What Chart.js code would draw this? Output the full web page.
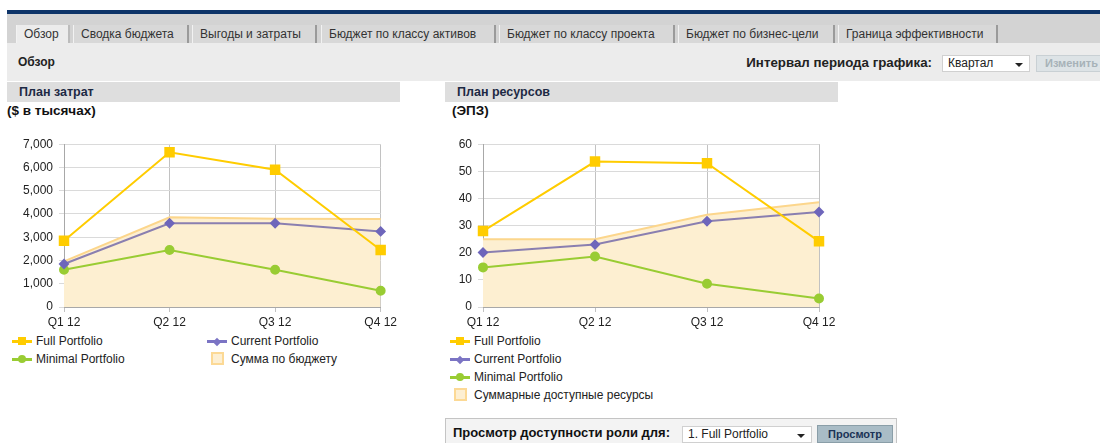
<!DOCTYPE html>
<html lang="ru">
<head>
<meta charset="UTF-8">
<title>Обзор</title>
<script src="https://cdn.jsdelivr.net/npm/chart.js"></script>
<style>
  body { margin: 0; width: 1100px; height: 443px; overflow: hidden; background: #fff;
         font-family: "Liberation Sans", Arial, sans-serif; font-size: 12px; color: #222; position: relative; }
  .abs { position: absolute; }
  .topbar { left: 7px; top: 10px; width: 1093px; height: 4px; background: #0d3468; }
  .tabband { left: 7px; top: 14px; width: 1093px; height: 29px; background: #d3d3d3; }
  .tab { top: 25px; height: 18px; line-height: 18px; background: #d8d8d8; color: #333;
         border-left: 1px solid #f2f2f2; border-right: 2px solid #9a9a9a; box-sizing: border-box; padding-left: 7px; white-space: nowrap; }
  .tab.active { background: #ececec; border-right: 2px solid #bcbcbc; }
  .band { left: 7px; top: 43px; width: 1093px; height: 38px; background: #ececec; }
  .hdr { top: 82px; height: 20px; line-height: 20px; background: #dedede; color: #1d2a44; font-weight: bold; font-size: 12.5px; padding-left: 12px; box-sizing: border-box; }
  .unit { top: 103px; font-weight: bold; font-size: 13.5px; color: #111; }
  .sel { background: #fff; border: 1px solid #d0d0d0; box-sizing: border-box; padding-left: 5px; line-height: 15px; }
  .sel .arr { position: absolute; right: 6px; top: 7px; width: 0; height: 0;
              border-left: 4px solid transparent; border-right: 4px solid transparent; border-top: 4px solid #222; }
  .leg { height: 14px; line-height: 14px; white-space: nowrap; }
  .mk { position: absolute; left: 0; top: 6px; width: 20px; height: 3px; }
  .mk i { position: absolute; left: 6px; top: -3px; width: 8px; height: 8px; display: block; }
  .sq { position: absolute; left: 4px; top: 0; width: 13px; height: 13px; box-sizing: border-box; background: #fdefd2; border: 2px solid #fcd995; }
  .leg span.t { position: absolute; left: 24px; top: 0; }
</style>
</head>
<body>
<div class="abs topbar"></div>
<div class="abs tabband"></div>
<div class="abs tab active" style="left:16px;width:54px;">Обзор</div>
<div class="abs tab" style="left:73px;width:116px;">Сводка бюджета</div>
<div class="abs tab" style="left:192px;width:125px;">Выгоды и затраты</div>
<div class="abs tab" style="left:321px;width:175px;">Бюджет по классу активов</div>
<div class="abs tab" style="left:499px;width:176px;">Бюджет по классу проекта</div>
<div class="abs tab" style="left:678px;width:157px;">Бюджет по бизнес-цели</div>
<div class="abs tab" style="left:838px;width:160px;">Граница эффективности</div>
<div class="abs band"></div>
<div class="abs" style="left:18px;top:55px;font-weight:bold;">Обзор</div>
<div class="abs" style="left:600px;width:332px;top:55px;text-align:right;font-weight:bold;font-size:13.3px;">Интервал периода графика:</div>
<div class="abs sel" style="left:942px;top:55px;width:88px;height:17px;">Квартал<div class="arr"></div></div>
<div class="abs" style="left:1036px;top:55px;width:80px;height:17px;background:#dde3e6;border:1px solid #c9d0d4;box-sizing:border-box;color:#a7b2b8;font-weight:bold;font-size:11px;line-height:15px;padding-left:8px;">Изменить</div>

<div class="abs hdr" style="left:7px;width:393px;">План затрат</div>
<div class="abs hdr" style="left:445px;width:393px;">План ресурсов</div>
<div class="abs unit" style="left:7px;">($ в тысячах)</div>
<div class="abs unit" style="left:452px;">(ЭПЗ)</div>

<canvas id="costChart" class="abs" style="left:10px;top:131px;" width="390" height="200"></canvas>
<canvas id="resChart" class="abs" style="left:445px;top:131px;" width="400" height="200"></canvas>

<div id="costLegend"></div>
<div id="resLegend"></div>

<div class="abs" style="left:445px;top:418px;width:452px;height:30px;background:#f3f3f3;border:1px solid #c4c4c4;box-sizing:border-box;"></div>
<div class="abs" style="left:453px;top:425px;font-weight:bold;font-size:13px;color:#111;">Просмотр доступности роли для:</div>
<div class="abs sel" style="left:682px;top:426px;width:130px;height:17px;">1. Full Portfolio<div class="arr"></div></div>
<div class="abs" style="left:817px;top:425px;width:76px;height:18px;background:#a9bcc6;border:1px solid #8a9ea8;box-sizing:border-box;color:#1b3356;font-weight:bold;font-size:11px;line-height:16px;text-align:center;">Просмотр</div>

<script>
const quarters = ['Q1 12', 'Q2 12', 'Q3 12', 'Q4 12'];

// План затрат, $ в тысячах
const costFull = [2850, 6650, 5900, 2450];
const costCurrent = [1850, 3600, 3600, 3250];
const costMinimal = [1600, 2450, 1600, 700];
const costBudget = [1960, 3860, 3790, 3780];

// План ресурсов, ЭПЗ
const resFull = [28, 53.6, 53, 24.2];
const resCurrent = [20.1, 23, 31.6, 35];
const resMinimal = [14.6, 18.6, 8.6, 3.1];
const resAvailable = [25, 25, 34, 38.6];

const costNames = ['Full Portfolio', 'Current Portfolio', 'Minimal Portfolio', 'Сумма по бюджету'];
const resNames = ['Full Portfolio', 'Current Portfolio', 'Minimal Portfolio', 'Суммарные доступные ресурсы'];

const YELLOW = '#ffcc00', PURPLE_LINE = '#8a7fb0', PURPLE_PT = '#6e66bb', GREEN = '#99cc33';
const AREA_FILL = '#fdefd1', AREA_LINE = '#fcd68c';

function makeChart(id, names, full, current, minimal, area, yMax, yStep, yWidth, rightPad) {
    const ctx = document.getElementById(id).getContext('2d');
    return new Chart(ctx, {
        type: 'line',
        data: {
            labels: quarters,
            datasets: [
                { label: names[0], data: full, borderColor: YELLOW, backgroundColor: YELLOW,
                  borderWidth: 2, pointStyle: 'rect', pointRadius: 6, order: 1 },
                { label: names[1], data: current, borderColor: PURPLE_LINE, backgroundColor: PURPLE_PT,
                  pointBorderColor: PURPLE_PT, borderWidth: 2, pointStyle: 'rectRot', pointRadius: 4, order: 2 },
                { label: names[2], data: minimal, borderColor: GREEN, backgroundColor: GREEN,
                  borderWidth: 2, pointStyle: 'circle', pointRadius: 4, order: 3 },
                { label: names[3], data: area, borderColor: AREA_LINE, backgroundColor: AREA_FILL,
                  borderWidth: 2, pointRadius: 0, fill: 'origin', order: 10 }
            ]
        },
        options: {
            responsive: false,
            animation: false,
            locale: 'en-US',
            layout: { padding: { top: 7, right: rightPad, left: 0, bottom: 0 } },
            plugins: { legend: { display: false }, tooltip: { enabled: false } },
            elements: { line: { tension: 0 } },
            scales: {
                x: {
                    offset: false,
                    grid: { color: '#c2c2c2', tickLength: 5 },
                    border: { color: '#a8a8a8' },
                    ticks: { color: '#222', padding: 3, maxRotation: 0,
                             font: { family: 'Liberation Sans', size: 12 } },
                    afterFit: s => { s.height = 24; }
                },
                y: {
                    min: 0, max: yMax,
                    grid: { color: '#dadada', tickLength: 5 },
                    border: { color: '#a8a8a8' },
                    ticks: { stepSize: yStep, color: '#222', padding: 6,
                             font: { family: 'Liberation Sans', size: 12 } },
                    afterFit: s => { s.width = yWidth; }
                }
            }
        }
    });
}

makeChart('costChart', costNames, costFull, costCurrent, costMinimal, costBudget, 7000, 1000, 54, 19);
makeChart('resChart', resNames, resFull, resCurrent, resMinimal, resAvailable, 60, 10, 38, 26);

function legendItem(parent, x, y, kind, text) {
    const d = document.createElement('div');
    d.className = 'abs leg';
    d.style.left = x + 'px';
    d.style.top = (y - 7) + 'px';
    let mark;
    if (kind === 'area') {
        mark = '<div class="sq"></div>';
    } else {
        const c = kind === 'full' ? YELLOW : kind === 'current' ? '#7b74c4' : GREEN;
        const shape = kind === 'full' ? '' :
            kind === 'current' ? 'transform:rotate(45deg);width:6px;height:6px;left:7px;top:-1.5px;' :
            'border-radius:50%;';
        mark = '<div class="mk" style="background:' + c + '"><i style="background:' + c + ';' + shape + '"></i></div>';
    }
    d.innerHTML = mark + '<span class="t">' + text + '</span>';
    parent.appendChild(d);
}

const cl = document.getElementById('costLegend');
legendItem(cl, 12, 341, 'full', costNames[0]);
legendItem(cl, 207, 341, 'current', costNames[1]);
legendItem(cl, 12, 359, 'minimal', costNames[2]);
legendItem(cl, 207, 359, 'area', costNames[3]);

const rl = document.getElementById('resLegend');
legendItem(rl, 450, 341, 'full', resNames[0]);
legendItem(rl, 450, 359, 'current', resNames[1]);
legendItem(rl, 450, 377, 'minimal', resNames[2]);
legendItem(rl, 450, 395, 'area', resNames[3]);
</script>
</body>
</html>
